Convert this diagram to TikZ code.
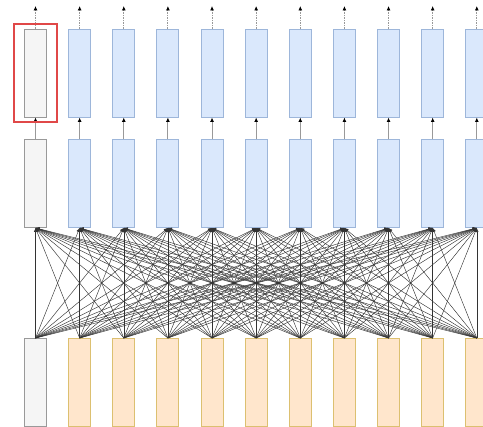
\documentclass[tikz,border=0pt]{standalone}
\usepackage{tikz}
\usetikzlibrary{positioning,arrows.meta,fit}
\definecolor{clsfill}{HTML}{F5F5F5}
\definecolor{clsline}{HTML}{999999}
\definecolor{hidden}{HTML}{DAE8FC}
\definecolor{hiddenline}{HTML}{9DB6DA}
\definecolor{token}{HTML}{FFE6CC}
\definecolor{tokenline}{HTML}{DCC070}
\definecolor{pick}{HTML}{E04848}

\begin{document}
\begin{tikzpicture}[x=1pt, y=-1pt,
  cell/.style={
    draw, minimum width=22pt, minimum height=88pt,
    inner sep=0pt, line width=0.9pt,
  },
  clsbox/.style={cell, draw=clsline, fill=clsfill},
  hidbox/.style={cell, draw=hiddenline, fill=hidden},
  tokbox/.style={cell, draw=tokenline, fill=token},
  link/.style={-{Latex[length=4pt,width=3.5pt]}, line width=0.45pt, black!80},
  lift/.style={-{Latex[length=4.5pt,width=4pt,color=black]}, line width=1pt, clsline},
  outlink/.style={-{Latex[length=4.5pt,width=4pt,color=black]}, line width=0.8pt,
    clsline, dash pattern=on 1.5pt off 1pt},
  focus/.style={draw=pick, line width=2pt, inner xsep=10pt, inner ysep=5pt},
]
  \path[use as bounding box, clip] (0,0) rectangle (483,427);

  % three rows of cells, column 0 is the grey one
  \foreach \i in {0,...,10} {
    \pgfmathsetmacro{\xx}{35.5+44.13*\i}
    \ifnum\i=0 \def\hs{clsbox}\def\ts{clsbox}\else \def\hs{hidbox}\def\ts{tokbox}\fi
    \node[style=\hs] (t\i) at (\xx,73) {};
    \node[style=\hs] (m\i) at (\xx,183.5) {};
    \node[style=\ts] (b\i) at (\xx,382.5) {};
    \coordinate (o\i) at (\xx,6);
  }

  % every input feeds every cell of the middle row
  \foreach \i in {0,...,10}
    \foreach \j in {0,...,10}
      \draw[link] (b\j.north) -- (m\i.south);

  \foreach \i in {0,...,10} {
    \draw[lift] (m\i) -- (t\i);
    \draw[outlink] (t\i) -- (o\i);
  }

  \node[focus, fit=(t0)] (sel) {};
\end{tikzpicture}
\end{document}
